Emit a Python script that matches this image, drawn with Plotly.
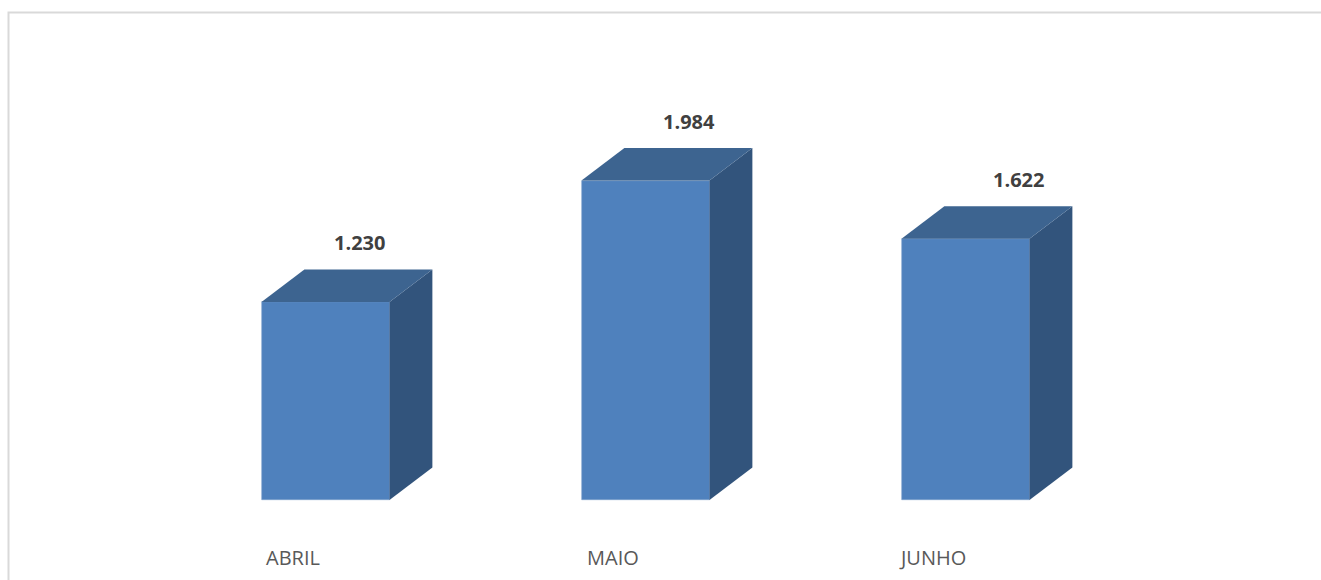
import plotly.graph_objects as go

# Monthly totals
categories = ["ABRIL", "MAIO", "JUNHO"]
values = [1230, 1984, 1622]
value_labels = ["1.230", "1.984", "1.622"]

# Styling
FRONT = "#4F81BD"
TOP = "#3D6490"
SIDE = "#32547C"
BAR_W = 0.4          # front-face width in category units
DEPTH_X = 0.134      # receding depth, category units
DEPTH_Y = 202        # receding depth, value units

W, H = 1321, 580
X0 = -1.0172
X1 = X0 + W / 320.0
Y0 = -80 / 0.161
Y1 = 500 / 0.161

xs = list(range(len(categories)))

fig = go.Figure()

# Front faces
fig.add_trace(go.Bar(
    x=xs, y=values, width=BAR_W,
    marker=dict(color=FRONT, line=dict(color="#7D9FCB", width=0.6)),
    hoverinfo="skip", showlegend=False,
))

# Side and top faces for the 3D look
for i, v in zip(xs, values):
    r = i + BAR_W / 2
    l = i - BAR_W / 2
    fig.add_trace(go.Scatter(
        x=[r, r + DEPTH_X, r + DEPTH_X, r, r],
        y=[0, DEPTH_Y, v + DEPTH_Y, v, 0],
        fill="toself", fillcolor=SIDE, mode="lines",
        line=dict(width=0, color=SIDE),
        hoverinfo="skip", showlegend=False,
    ))
    fig.add_trace(go.Scatter(
        x=[l, l + DEPTH_X, r + DEPTH_X, r, l],
        y=[v, v + DEPTH_Y, v + DEPTH_Y, v, v],
        fill="toself", fillcolor=TOP, mode="lines",
        line=dict(width=0, color=TOP),
        hoverinfo="skip", showlegend=False,
    ))

annotations = []
for i, (v, lab, cat) in enumerate(zip(values, value_labels, categories)):
    # value label above the bar (perspective shifts it right with distance)
    annotations.append(dict(
        x=i + 0.105 + 0.031 * i, y=v + DEPTH_Y, xref="x", yref="y",
        text=f"<b>{lab}</b>", showarrow=False,
        xanchor="center", yanchor="middle", yshift=27,
        font=dict(family="Open Sans", size=20, color="#404040"),
    ))
    # category label under the bar
    annotations.append(dict(
        x=i - 0.103, y=0, xref="x", yref="y",
        text=cat, showarrow=False,
        xanchor="center", yanchor="middle", yshift=-57,
        font=dict(family="Open Sans", size=20, color="#595959"),
    ))

fig.update_layout(
    width=W, height=H,
    margin=dict(l=0, r=0, t=0, b=0),
    paper_bgcolor="white", plot_bgcolor="white",
    xaxis=dict(range=[X0, X1], visible=False, fixedrange=True),
    yaxis=dict(range=[Y0, Y1], visible=False, fixedrange=True),
    annotations=annotations,
    shapes=[dict(
        type="rect", xref="paper", yref="paper",
        x0=8.5 / W, x1=1.05, y0=-0.05, y1=1 - 12.5 / H,
        line=dict(color="#D9D9D9", width=2),
    )],
    bargap=0,
)

fig.write_html("out.html", config={"displayModeBar": False})
